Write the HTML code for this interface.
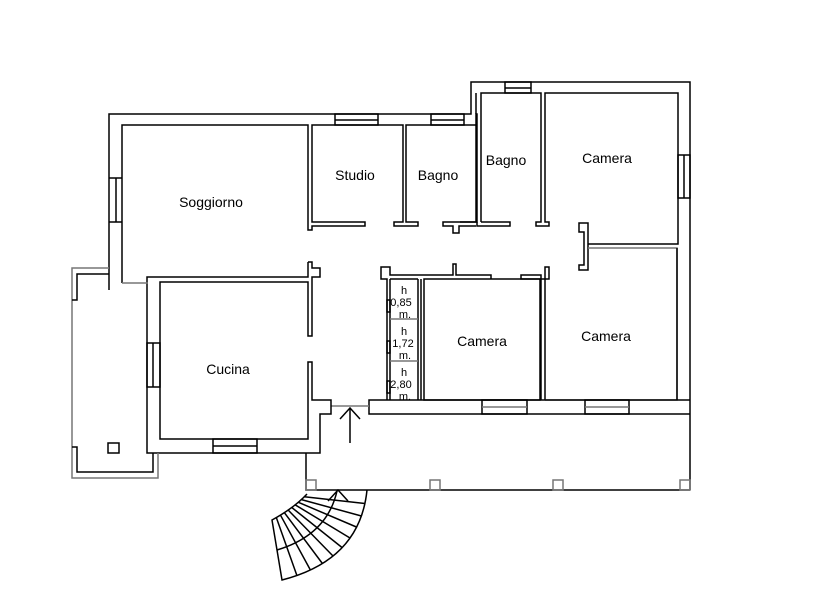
<!DOCTYPE html>
<html><head><meta charset="utf-8"><style>
html,body{margin:0;padding:0;background:#fff;}
svg{display:block;}
text{font-family:"Liberation Sans",sans-serif;fill:#000;}
</style></head><body>
<svg width="816" height="602" viewBox="0 0 816 602" xmlns="http://www.w3.org/2000/svg">
<g fill="none" stroke="#000" stroke-width="1.5">
<polyline points="109,290 109,114 471,114 471,82 690,82 690,490"/>
<polyline points="122,283 122,125 308,125 308,230 312,230 312,226 365,226 365,222 312,222 312,125 403,125 403,222 394,222 394,226 418,226 418,222 406,222 406,125 476,125 476,222 443,222 443,226 453,226 453,233 459,233 459,226 476,226"/>
<polyline points="109,178 122,178"/><polyline points="109,222 122,222"/><line x1="116" y1="178" x2="116" y2="222"/>
<rect x="335" y="114" width="43" height="11"/><line x1="335" y1="120" x2="378" y2="120"/>
<rect x="431" y="114" width="33" height="11"/><line x1="431" y1="120" x2="464" y2="120"/>
<rect x="505" y="82" width="26" height="11"/><line x1="505" y1="88" x2="531" y2="88"/>
<rect x="678" y="155" width="12" height="43"/><line x1="684" y1="155" x2="684" y2="198"/>
<polyline points="476,125 476,114 477,114 477,222 460,222"/>
<polyline points="476,93 476,114"/>
<polyline points="481,222 481,93 541,93 541,222 536,222 536,226 549,226 549,222 545,222 545,93 678,93 678,244 588,244 588,270 579,270 579,265 584,265 584,232 579,232 579,223 588,223 588,244"/>
<polyline points="481,222 510,222 510,226 477,226 477,222"/>
<polyline points="545,400 545,267 549,267 549,279 521,279 521,275 541,275 541,400"/>
<polyline points="588,248 677,248 677,400 545,400" stroke="#777"/>
<line x1="677" y1="248" x2="677" y2="400"/>
<rect x="424" y="279" width="116" height="121"/>
<polyline points="491,279 491,275 456,275 456,264 453,264 453,275 390,275 390,267 381,267 381,279 387,279 387,400"/>
<line x1="390" y1="279" x2="390" y2="400"/>
<line x1="418" y1="279" x2="418" y2="400"/><line x1="421" y1="279" x2="421" y2="400"/>
<line x1="390" y1="279" x2="418" y2="279"/>
<line x1="390" y1="319" x2="418" y2="319" stroke="#777"/>
<line x1="390" y1="361" x2="418" y2="361" stroke="#777"/>
<rect x="387" y="300" width="3" height="12"/><rect x="387" y="341" width="3" height="12"/><rect x="387" y="381" width="3" height="12"/>
<polyline points="690,414 369,414 369,400 690,400"/>
<rect x="482" y="400" width="45" height="14"/><line x1="482" y1="407" x2="527" y2="407" stroke="#777"/>
<rect x="585" y="400" width="44" height="14"/><line x1="585" y1="407" x2="629" y2="407" stroke="#777"/>
<line x1="331" y1="406" x2="369" y2="406" stroke="#777"/>
<line x1="350" y1="443" x2="350" y2="408"/><polyline points="340,419 350,408 360,419"/>
<polyline points="308,262 308,277 147,277 147,453 320,453 320,414 331,414 331,400 312,400 312,362 308,362 308,439 160,439 160,282 308,282 308,336 312,336 312,277 320,277 320,268 312,268 312,262 308,262"/>
<polyline points="148,283 122,283" stroke="#777"/>
<rect x="147" y="343" width="13" height="44"/><line x1="153" y1="343" x2="153" y2="387"/>
<rect x="213" y="439" width="44" height="14"/><line x1="213" y1="446" x2="257" y2="446"/>
<polyline points="109,268 72,268 72,478 158,478 158,453" stroke="#777"/>
<polyline points="109,274 77,274 77,300 72,300"/>
<polyline points="72,447 77,447 77,472 153,472 153,453"/>
<rect x="108" y="443" width="11" height="10"/>
<polyline points="306,453 306,490 690,490"/>
<rect x="306" y="480" width="10" height="10" stroke="#777"/>
<rect x="430" y="480" width="10" height="10" stroke="#777"/>
<rect x="553" y="480" width="10" height="10" stroke="#777"/>
<rect x="680" y="480" width="10" height="10" stroke="#777"/>
<path d="M307,494 Q294,508 272,520 L282,580 Q360,560 367,490"/>
<path d="M337,491 Q327,535 277,550"/>
<line x1="304.3" y1="496.7" x2="364.9" y2="503.5"/>
<line x1="301.5" y1="499.6" x2="361.4" y2="516"/>
<line x1="298.4" y1="502.3" x2="356.4" y2="527"/>
<line x1="295.1" y1="504.8" x2="350" y2="538"/>
<line x1="291.8" y1="507.5" x2="342" y2="547.5"/>
<line x1="288.1" y1="510" x2="333" y2="556"/>
<line x1="284.4" y1="512.7" x2="322.4" y2="563.5"/>
<line x1="280.5" y1="515.2" x2="310.4" y2="570"/>
<line x1="276.3" y1="517.5" x2="296.9" y2="575.5"/>
<polyline points="328,501 338,490 348,501"/>
</g>
<g font-size="14" text-anchor="middle">
<text x="211" y="207">Soggiorno</text>
<text x="355" y="180">Studio</text>
<text x="438" y="180">Bagno</text>
<text x="506" y="165">Bagno</text>
<text x="607" y="163">Camera</text>
<text x="482" y="346">Camera</text>
<text x="606" y="341">Camera</text>
<text x="228" y="374">Cucina</text>
</g>
<g font-size="11" text-anchor="middle">
<text x="404" y="294">h</text><text x="401" y="306">0,85</text><text x="405" y="318">m.</text>
<text x="404" y="335">h</text><text x="403" y="347">1,72</text><text x="405" y="359">m.</text>
<text x="404" y="376">h</text><text x="401" y="388">2,80</text><text x="405" y="400">m.</text>
</g>
</svg>
</body></html>
